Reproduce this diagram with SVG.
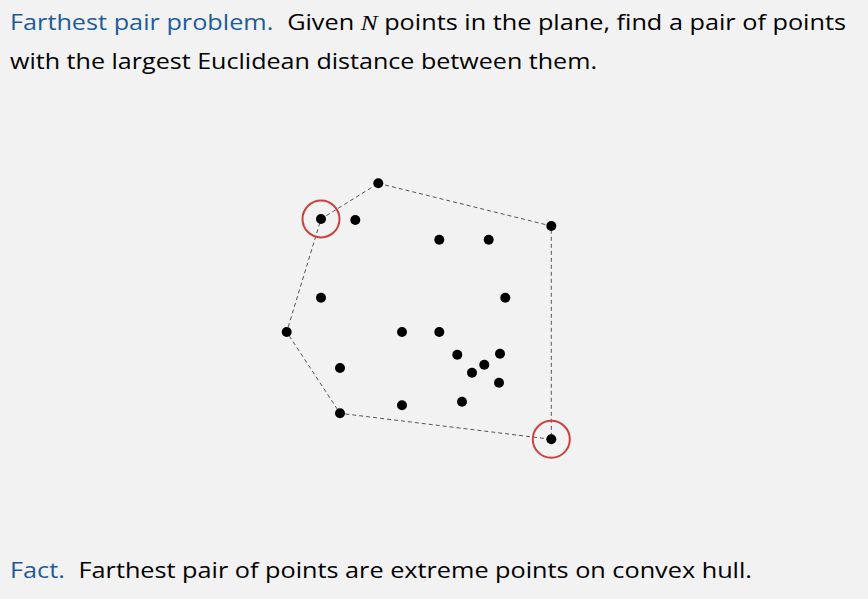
<svg xmlns="http://www.w3.org/2000/svg" width="868" height="599" viewBox="0 0 868 599">
<style>
.t{font-family:"Open Sans","Liberation Sans",sans-serif;font-size:22px;fill:#000}
.b{fill:#1d5c99}
.n{font-family:"Liberation Serif",serif;font-style:italic;font-size:22px}
.pt{fill:#000}
.hl{fill:none;stroke:#c9423d;stroke-width:2}
.hull{fill:none;stroke:#555;stroke-width:1;stroke-dasharray:4 3}
</style>
<rect width="868" height="599" fill="#f2f2f2"/>
<text class="t" x="10" y="30" textLength="836" lengthAdjust="spacingAndGlyphs"><tspan class="b">Farthest pair problem.</tspan><tspan dx="12">Given </tspan><tspan class="n">N</tspan><tspan> points in the plane, find a pair of points</tspan></text>
<text class="t" x="10" y="69" textLength="587" lengthAdjust="spacingAndGlyphs">with the largest Euclidean distance between them.</text>
<text class="t" x="10" y="578" textLength="742" lengthAdjust="spacingAndGlyphs"><tspan class="b">Fact.</tspan><tspan dx="12">Farthest pair of points are extreme points on convex hull.</tspan></text>
<g id="connectors">
<polygon class="hull" points="378.3,183.3 551.3,226 551.3,439.3 340,413.3 286.7,332 321,219"/>
</g>
<g id="points">
<circle class="pt" cx="378.3" cy="183.3" r="5"/>
<circle class="pt" cx="321" cy="219" r="5"/>
<circle class="pt" cx="355.3" cy="220" r="5"/>
<circle class="pt" cx="551.3" cy="226" r="5"/>
<circle class="pt" cx="439.3" cy="239.7" r="5"/>
<circle class="pt" cx="488.7" cy="239.7" r="5"/>
<circle class="pt" cx="321" cy="297.7" r="5"/>
<circle class="pt" cx="505.3" cy="297.7" r="5"/>
<circle class="pt" cx="286.7" cy="332" r="5"/>
<circle class="pt" cx="402" cy="332" r="5"/>
<circle class="pt" cx="439.3" cy="332" r="5"/>
<circle class="pt" cx="457.3" cy="354.7" r="5"/>
<circle class="pt" cx="500" cy="353.7" r="5"/>
<circle class="pt" cx="484.3" cy="364.7" r="5"/>
<circle class="pt" cx="472" cy="372.7" r="5"/>
<circle class="pt" cx="340" cy="368" r="5"/>
<circle class="pt" cx="499" cy="382.7" r="5"/>
<circle class="pt" cx="462" cy="401.7" r="5"/>
<circle class="pt" cx="402" cy="405.3" r="5"/>
<circle class="pt" cx="340" cy="413.3" r="5"/>
<circle class="pt" cx="551.3" cy="439.3" r="5"/>
</g>
<g id="highlight-1"><circle class="hl" cx="321" cy="219" r="18.5"/></g>
<g id="highlight-2"><circle class="hl" cx="551.3" cy="439.3" r="18.5"/></g>
</svg>
